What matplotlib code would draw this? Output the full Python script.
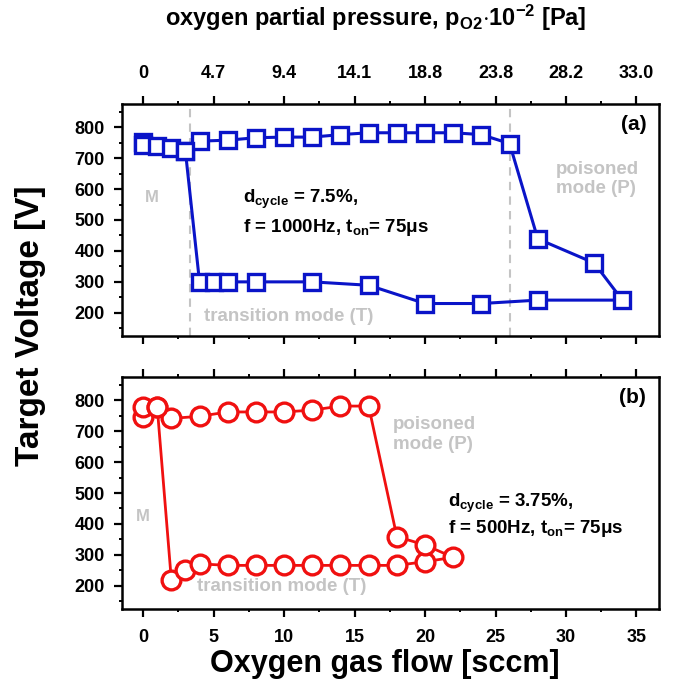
import matplotlib
matplotlib.use("Agg")
import matplotlib.pyplot as plt
from matplotlib.ticker import MultipleLocator, FixedLocator

plt.rcParams['font.family'] = ['Liberation Sans', 'DejaVu Sans']
plt.rcParams['font.weight'] = 'bold'
plt.rcParams['mathtext.fontset'] = 'custom'
plt.rcParams['mathtext.rm'] = 'Liberation Sans:bold'
plt.rcParams['mathtext.it'] = 'Liberation Sans:bold'
plt.rcParams['mathtext.bf'] = 'Liberation Sans:bold'
plt.rcParams['mathtext.default'] = 'bf'

# ---- data: panel (a), duty cycle 7.5 % ----
a_flow = [0, 0, 1, 2, 3, 4, 5, 6, 8, 12, 16, 20, 24, 28, 34,
          32, 28, 26, 24, 22, 20, 18, 16, 14, 12, 10, 8, 6, 4, 3]
a_volt = [752, 742, 739, 734, 722, 300, 300, 300, 300, 300, 289, 230, 230, 241, 241,
          361, 439, 747, 776, 782, 782, 782, 782, 776, 768, 768, 766, 758, 755, 722]

# ---- data: panel (b), duty cycle 3.75 % ----
b_flow = [0, 0, 1, 2, 3, 4, 6, 8, 10, 12, 14, 16, 18, 20, 22,
          20, 18, 16, 14, 12, 10, 8, 6, 4, 2, 1]
b_volt = [746, 778, 778, 219, 252, 271, 266, 266, 266, 266, 266, 266, 266, 278, 292,
          332, 359, 781, 781, 768, 762, 762, 762, 748, 741, 778]

flow_ticks = [0, 5, 10, 15, 20, 25, 30, 35]
pressure_labels = ['0', '4.7', '9.4', '14.1', '18.8', '23.8', '28.2', '33.0']
volt_ticks = [200, 300, 400, 500, 600, 700, 800]

W, H = 673, 693
fig = plt.figure(figsize=(W / 100, H / 100), dpi=100)

left = 122 / W
width = (659 - 122) / W
hgt = 232 / H
ax_a = fig.add_axes([left, (H - 336) / H, width, hgt])
ax_b = fig.add_axes([left, (H - 609) / H, width, hgt])

blue = '#0a14c8'
red = '#f01010'
gray = '#c4c4c4'

ax_a.plot(a_flow, a_volt, color=blue, lw=2.2, marker='s', ms=12,
          mfc='white', mec=blue, mew=2.4, zorder=3)
ax_b.plot(b_flow, b_volt, color=red, lw=2.0, marker='o', ms=13.5,
          mfc='white', mec=red, mew=2.4, zorder=3)

for ax in (ax_a, ax_b):
    ax.set_xlim(-1.5, 36.6)
    ax.set_ylim(125, 875)
    ax.xaxis.set_major_locator(FixedLocator(flow_ticks))
    ax.xaxis.set_minor_locator(MultipleLocator(2.5))
    ax.yaxis.set_major_locator(FixedLocator(volt_ticks))
    ax.yaxis.set_minor_locator(MultipleLocator(50))
    ax.tick_params(axis='both', which='major', direction='out', length=5.5, width=1.6,
                   labelsize=13)
    ax.tick_params(axis='both', which='minor', direction='out', length=2.5, width=1.4)
    ax.tick_params(axis='y', right=False, pad=7)
    ax.tick_params(axis='x', top=True, bottom=True, which='both')
    for s in ax.spines.values():
        s.set_linewidth(1.8)
    for lab in ax.get_xticklabels() + ax.get_yticklabels():
        lab.set_fontweight('bold')

ax_a.tick_params(axis='x', labelbottom=False, labeltop=True, pad=10)
ax_a.set_xticklabels(pressure_labels)
ax_b.tick_params(axis='x', labelbottom=True, labeltop=False, pad=9)
ax_b.set_xticklabels([str(t) for t in flow_ticks])

# dashed region borders in (a)
for xv in (3.3, 26.0):
    ax_a.axvline(xv, color=gray, ls=(0, (4, 3)), lw=1.5, zorder=1)

fs = 13.5
# texts (a)
ax_a.text(35.7, 808, '(a)', ha='right', va='center', fontsize=15, fontweight='bold')
ax_a.text(0.6, 573, 'M', ha='center', va='center', fontsize=12, color=gray, fontweight='bold')
ax_a.text(4.3, 187, 'transition mode (T)', ha='left', va='center', fontsize=fs,
          color=gray, fontweight='bold')
ax_a.text(29.3, 632, 'poisoned\nmode (P)', ha='left', va='center', fontsize=fs,
          color=gray, fontweight='bold', linespacing=1.2)
ax_a.text(7.1, 567, r'd$_{\mathbf{cycle}}$ = 7.5%,', ha='left', va='center', fontsize=fs,
          fontweight='bold')
ax_a.text(7.1, 476, r'f = 1000Hz, t$_{\mathbf{on}}$= 75μs', ha='left', va='center',
          fontsize=fs, fontweight='bold')

# texts (b)
ax_b.text(35.7, 808, '(b)', ha='right', va='center', fontsize=15, fontweight='bold')
ax_b.text(0.0, 424, 'M', ha='center', va='center', fontsize=12, color=gray, fontweight='bold')
ax_b.text(3.8, 198, 'transition mode (T)', ha='left', va='center', fontsize=fs,
          color=gray, fontweight='bold')
ax_b.text(17.75, 690, 'poisoned\nmode (P)', ha='left', va='center', fontsize=fs,
          color=gray, fontweight='bold', linespacing=1.2)
ax_b.text(21.6, 467, r'd$_{\mathbf{cycle}}$ = 3.75%,', ha='left', va='center', fontsize=fs,
          fontweight='bold')
ax_b.text(21.6, 386, r'f = 500Hz, t$_{\mathbf{on}}$= 75μs', ha='left', va='center',
          fontsize=fs, fontweight='bold')

# axis titles
fig.text(376 / W, 1 - 18 / H,
         r'oxygen partial pressure, p$_{\mathbf{O2}}$$\cdot$10$^{\mathbf{-2}}$ [Pa]',
         ha='center', va='center', fontsize=17, fontweight='bold')
fig.text(385 / W, 1 - 664 / H, 'Oxygen gas flow [sccm]',
         ha='center', va='center', fontsize=22, fontweight='bold')
fig.text(31 / W, 1 - 326 / H, 'Target Voltage [V]', rotation=90,
         ha='center', va='center', fontsize=24, fontweight='bold')

fig.savefig('out.png', dpi=100)
